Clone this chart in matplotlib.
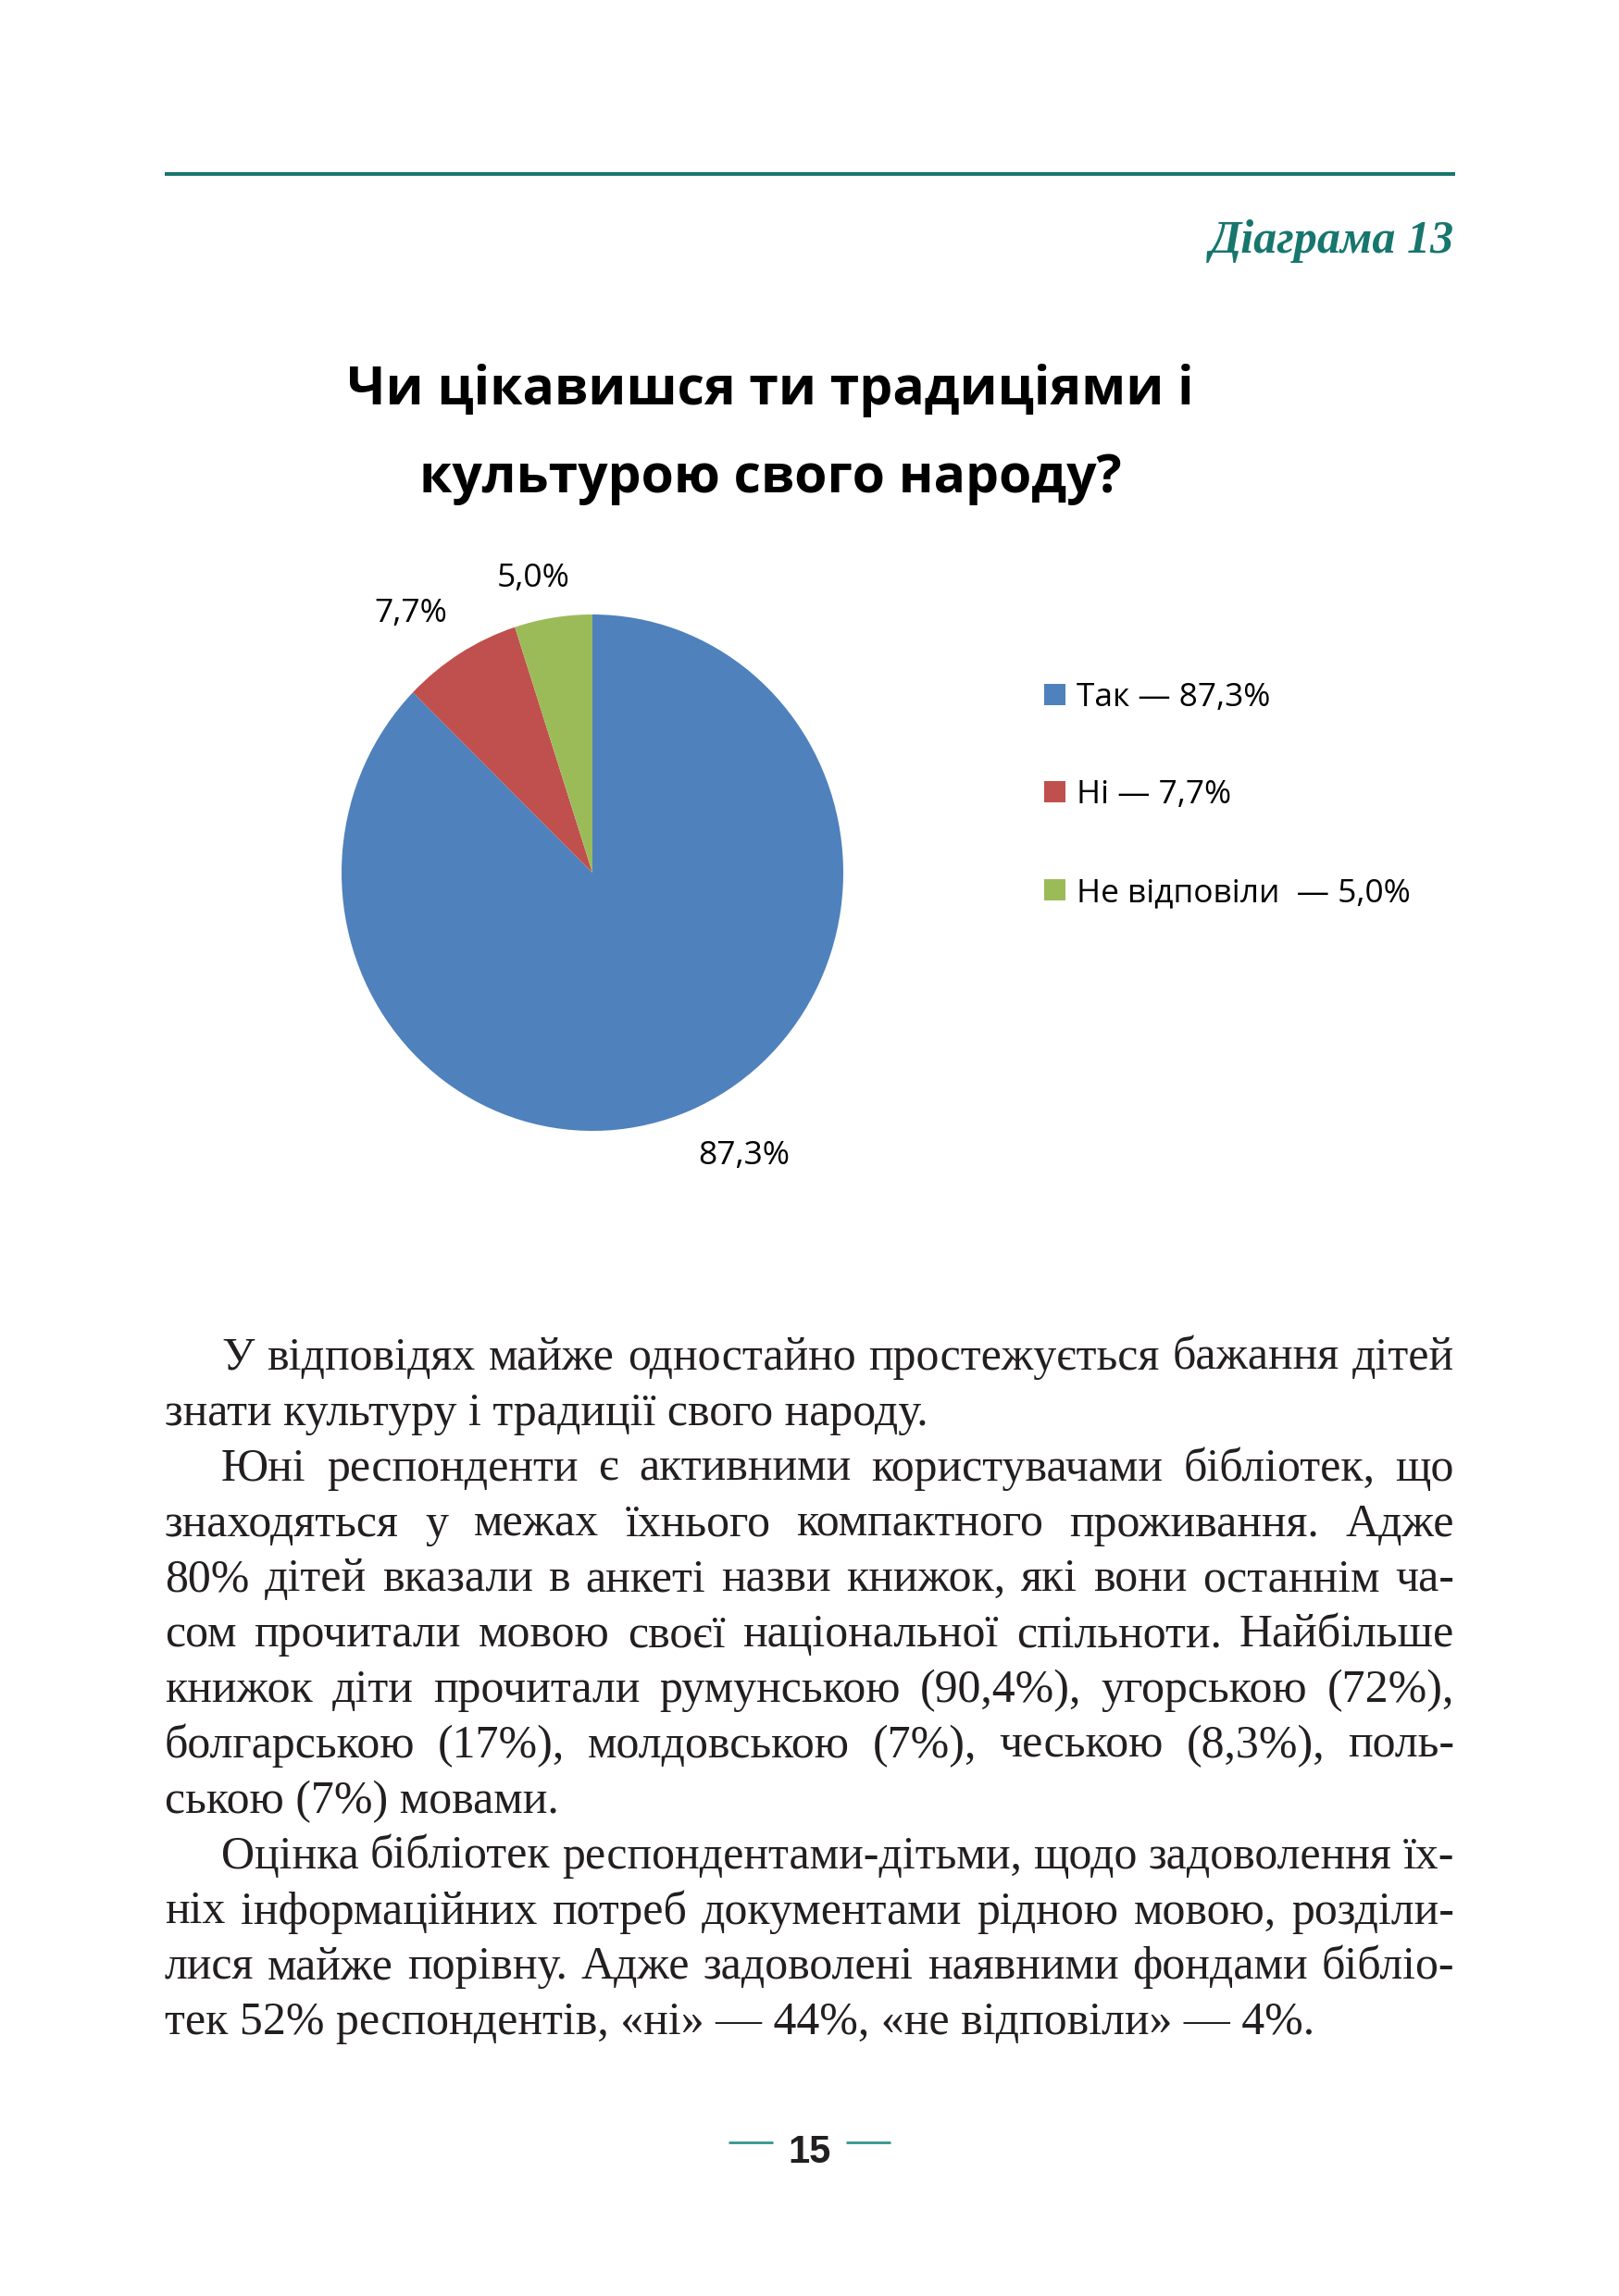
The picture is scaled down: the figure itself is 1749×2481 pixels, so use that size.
import matplotlib
matplotlib.use("Agg")
import matplotlib.pyplot as plt
from matplotlib.font_manager import FontProperties
from matplotlib.patches import Rectangle

W, H = 1749, 2481
DPI = 150

# ---------------- data ----------------
categories = ["Так", "Ні", "Не відповіли"]
values = [87.3, 7.7, 5.0]
legend_labels = ["Так — 87,3%", "Ні — 7,7%", "Не відповіли  — 5,0%"]
colors = ["#4f81bd", "#c0504d", "#9bbb59"]
title_lines = ["Чи цікавишся ти традиціями і", "культурою свого народу?"]
diagram_label = "Діаграма 13"
page_number = "15"

paragraphs = [
    ["У відповідях майже одностайно простежується бажання дітей",
     "знати культуру і традиції свого народу."],
    ["Юні респонденти є активними користувачами бібліотек, що",
     "знаходяться у межах їхнього компактного проживання. Адже",
     "80% дітей вказали в анкеті назви книжок, які вони останнім ча-",
     "сом прочитали мовою своєї національної спільноти. Найбільше",
     "книжок діти прочитали румунською (90,4%), угорською (72%),",
     "болгарською (17%), молдовською (7%), чеською (8,3%), поль-",
     "ською (7%) мовами."],
    ["Оцінка бібліотек респондентами-дітьми, щодо задоволення їх-",
     "ніх інформаційних потреб документами рідною мовою, розділи-",
     "лися майже порівну. Адже задоволені наявними фондами бібліо-",
     "тек 52% респондентів, «ні» — 44%, «не відповіли» — 4%."],
]

TEAL = "#17766d"
TEXT = "#231f20"
SANS = ["Open Sans", "DejaVu Sans"]
SERIF = ["Liberation Serif", "DejaVu Serif"]

fig = plt.figure(figsize=(W / DPI, H / DPI), dpi=DPI)
fig.patch.set_facecolor("white")
page = fig.add_axes([0, 0, 1, 1])
page.set_xlim(0, W)
page.set_ylim(H, 0)
page.axis("off")
renderer = fig.canvas.get_renderer()


def twidth(s, fp):
    w, h, d = renderer.get_text_width_height_descent(s, fp, ismath=False)
    return w


# top rule and diagram label
page.plot([178, 1572], [188, 188], color=TEAL, lw=1.9, solid_capstyle="butt")
fp_d = FontProperties(family=SERIF, style="italic", weight="bold", size=24)
dsize = 24 * 264 / twidth(diagram_label, fp_d)
page.text(1571, 273, diagram_label, ha="right", va="baseline", fontsize=dsize,
          family=SERIF, style="italic", weight="bold", color=TEAL)

# title (fit width of first line)
fp_t = FontProperties(family=SANS, weight="bold", stretch="semi-condensed", size=30)
tsize = 30 * 915 / twidth(title_lines[0], fp_t)
for txt, yb in zip(title_lines, [437, 532]):
    page.text(832, yb, txt, ha="center", va="baseline", fontsize=tsize,
              family=SANS, weight="bold", stretch="semi-condensed", color="black")

# pie
pl, pr, pt, pb = 369, 911, 664, 1222
pax = fig.add_axes([pl / W, 1 - pb / H, (pr - pl) / W, (pb - pt) / H])
wedges, _ = pax.pie(values, colors=colors, startangle=90, counterclock=False,
                    radius=1, wedgeprops=dict(linewidth=0))
pax.set_aspect("auto")
pax.set_xlim(-1, 1)
pax.set_ylim(-1, 1)
pax.axis("off")

label_pos = [(804, 1258), (444, 672), (576, 634)]
for v, (lx, ly) in zip(values, label_pos):
    page.text(lx, ly, f"{v:.1f}".replace(".", ",") + "%", ha="center",
              va="baseline", fontsize=17, family=SANS, color="black")

# legend
rows = [750.5, 855.5, 961.5]
fp_l = FontProperties(family=SANS, size=16)
lsize = 16 * 209 / twidth(legend_labels[0], fp_l)
for lab, col, yc in zip(legend_labels, colors, rows):
    page.add_patch(Rectangle((1128, yc - 11.5), 23, 23, facecolor=col,
                             edgecolor="none"))
    page.text(1163, yc + 12.5, lab, ha="left", va="baseline", fontsize=lsize,
              family=SANS, color="black")

# body text, justified
LEFT, RIGHT, INDENT = 178, 1571, 239
base_size = 30.0
fp_b = FontProperties(family=SERIF, size=base_size)
em_px = base_size * DPI / 72
min_space = 0.24 * em_px

scale = 1.0
for para in paragraphs:
    for i, line in enumerate(para[:-1]):
        words = line.split()
        x0 = INDENT if i == 0 else LEFT
        natural = sum(twidth(w, fp_b) for w in words) + (len(words) - 1) * min_space
        scale = min(scale, (RIGHT - x0) / natural)
bsize = base_size * scale
fp_b = FontProperties(family=SERIF, size=bsize)

y0, dy = 1480, 59.85
k = 0
for para in paragraphs:
    for i, line in enumerate(para):
        yb = y0 + k * dy
        x0 = INDENT if i == 0 else LEFT
        if i == len(para) - 1:
            page.text(x0, yb, line, ha="left", va="baseline", fontsize=bsize,
                      family=SERIF, color=TEXT)
        else:
            words = line.split()
            widths = [twidth(w, fp_b) for w in words]
            gap = (RIGHT - x0 - sum(widths)) / (len(words) - 1)
            x = x0
            for w, wd in zip(words, widths):
                page.text(x, yb, w, ha="left", va="baseline", fontsize=bsize,
                          family=SERIF, color=TEXT)
                x += wd + gap
        k += 1

# page number
page.plot([787, 835], [2315, 2315], color="#2e9488", lw=1.3, solid_capstyle="butt")
page.plot([914, 962], [2315, 2315], color="#2e9488", lw=1.3, solid_capstyle="butt")
page.text(875, 2337, page_number, ha="center", va="baseline", fontsize=20,
          family=["Liberation Sans", "DejaVu Sans"], weight="bold", color=TEXT)

fig.savefig("out.png", dpi=DPI, facecolor="white")
